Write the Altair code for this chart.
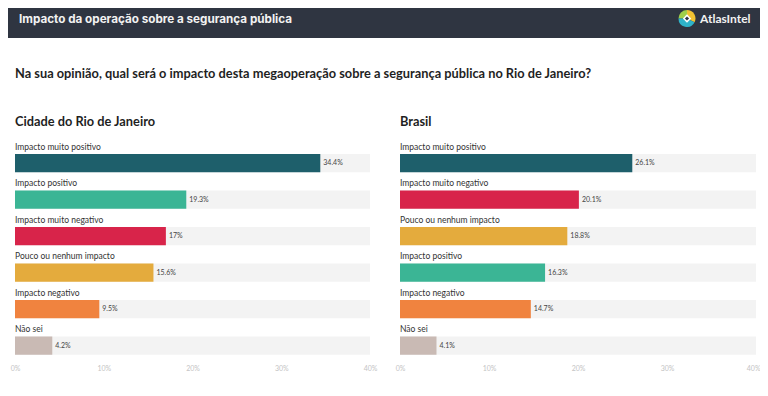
import altair as alt
import pandas as pd

# ---------------- data ----------------
header_title = "Impacto da operação sobre a segurança pública"
brand_name = "AtlasIntel"
question = "Na sua opinião, qual será o impacto desta megaoperação sobre a segurança pública no Rio de Janeiro?"
panel_titles = ["Cidade do Rio de Janeiro", "Brasil"]

rio_categories = ["Impacto muito positivo", "Impacto positivo", "Impacto muito negativo",
                  "Pouco ou nenhum impacto", "Impacto negativo", "Não sei"]
rio_values = [34.4, 19.3, 17, 15.6, 9.5, 4.2]

br_categories = ["Impacto muito positivo", "Impacto muito negativo", "Pouco ou nenhum impacto",
                 "Impacto positivo", "Impacto negativo", "Não sei"]
br_values = [26.1, 20.1, 18.8, 16.3, 14.7, 4.1]

tick_values = [0, 10, 20, 30, 40]
axis_max = 40

category_order = ["Impacto muito positivo", "Impacto positivo", "Impacto muito negativo",
                  "Pouco ou nenhum impacto", "Impacto negativo", "Não sei"]
category_colors = ["#1e5f6b", "#3bb595", "#d8244a", "#e4ab3d", "#f0833f", "#c9bab4"]

logo_segments = ["verde", "amarelo", "azul"]
logo_shares = [1, 1.3, 1.7]
logo_colors = ["#9fcf4a", "#f1c232", "#2fb3c9"]

# ---------------- layout ----------------
W, H = 752, 376
HEADER_BG = "#2f3541"
Y_RANGE = [136.75, 355.75]


def one_row(**kw):
    return alt.Chart(pd.DataFrame({k: [v] for k, v in kw.items()}))


def panel(cats, vals, x0, x1, flush_last=False):
    df = pd.DataFrame({
        "category": cats,
        "value": vals,
        "rank": list(range(len(cats))),
        "full": [axis_max] * len(cats),
        "label": [f"{v:g}%" for v in vals],
    })
    xs = alt.Scale(domain=[0, axis_max], range=[x0, x1], nice=False, zero=True)
    ys = alt.Scale(domain=list(range(len(cats))), range=Y_RANGE,
                   paddingInner=0.5, paddingOuter=0.25)
    y = alt.Y("rank:O", scale=ys, axis=None)
    axis_kw = dict(values=tick_values, orient="bottom", offset=-21,
                   domain=False, ticks=False, grid=False,
                   labelFontSize=7, labelColor="#c4c4c4", labelFont="Lato",
                   labelExpr="datum.value + '%'", labelPadding=1, labelFlush=False)
    if flush_last:
        axis_kw["labelAlign"] = {"condition": {"test": f"datum.value == {axis_max}",
                                               "value": "right"}, "value": "center"}
        axis_kw["labelOffset"] = {"condition": {"test": f"datum.value == {axis_max}",
                                                "value": 4}, "value": 0}
    base = alt.Chart(df)
    bg = base.mark_bar(color="#f3f3f3").encode(
        x=alt.X("full:Q", scale=xs, title=None, axis=alt.Axis(**axis_kw)),
        y=y,
    )
    bars = base.mark_bar().encode(
        x=alt.X("value:Q", scale=xs),
        y=y,
        color=alt.Color("category:N", legend=None,
                        scale=alt.Scale(domain=category_order, range=category_colors)),
    )
    names = base.mark_text(align="left", baseline="middle", dy=-16.5, font="Lato",
                           fontSize=8.5, color="#333333").encode(
        x=alt.datum(0), y=y, text="category:N")
    values = base.mark_text(align="left", baseline="middle", dx=3, font="Lato",
                            fontSize=7, color="#444444").encode(
        x=alt.X("value:Q", scale=xs), y=y, text="label:N")
    return alt.layer(bg, bars, names, values)


header_rect = one_row(a=0).mark_rect(color=HEADER_BG).encode(
    x=alt.value(0), x2=alt.value(W), y=alt.value(0), y2=alt.value(30))
header_text = one_row(t=header_title).mark_text(
    align="left", baseline="middle", font="Inter", fontWeight="bold",
    fontSize=11.7, color="#f2f2f2").encode(x=alt.value(11), y=alt.value(10.5), text="t:N")

logo_df = pd.DataFrame({"seg": logo_segments, "share": logo_shares})
logo_ring = alt.Chart(logo_df).mark_arc(outerRadius=8.5, innerRadius=0).encode(
    theta=alt.Theta("share:Q", stack=True),
    color=alt.Color("seg:N", legend=None,
                    scale=alt.Scale(domain=logo_segments, range=logo_colors)),
    x=alt.value(679), y=alt.value(10.5))
logo_diamond = one_row(a=0).mark_point(shape="diamond", filled=True, color="#ffffff",
                                       size=70, opacity=1).encode(
    x=alt.value(679), y=alt.value(10.5))
logo_core = one_row(a=0).mark_point(shape="diamond", filled=True, color=HEADER_BG,
                                    size=18, opacity=1).encode(
    x=alt.value(679), y=alt.value(10.5))
brand_text = one_row(t=brand_name).mark_text(
    align="left", baseline="middle", font="Lato", fontWeight="bold",
    fontSize=12, color="#f2f2f2").encode(x=alt.value(692), y=alt.value(10.5), text="t:N")

question_text = one_row(t=question).mark_text(
    align="left", baseline="middle", font="Lato", fontWeight="bold",
    fontSize=12.8, color="#1f1f1f").encode(x=alt.value(7), y=alt.value(65.5), text="t:N")

title_left = one_row(t=panel_titles[0]).mark_text(
    align="left", baseline="middle", font="Lato", fontWeight="bold",
    fontSize=12.8, color="#1f1f1f").encode(x=alt.value(7), y=alt.value(113.5), text="t:N")
title_right = one_row(t=panel_titles[1]).mark_text(
    align="left", baseline="middle", font="Lato", fontWeight="bold",
    fontSize=12.8, color="#1f1f1f").encode(x=alt.value(392), y=alt.value(113.5), text="t:N")

left_panel = panel(rio_categories, rio_values, 7, 362)
right_panel = panel(br_categories, br_values, 392, 748, flush_last=True)

chart = alt.layer(
    header_rect, header_text, logo_ring, logo_diamond, logo_core, brand_text,
    question_text, title_left, title_right, left_panel, right_panel,
).resolve_scale(
    x="independent", color="independent", theta="independent"
).properties(
    width=W, height=H, padding=0, autosize=alt.AutoSizeParams(type="none"),
    background="#ffffff",
).configure_view(stroke=None)

chart.save("out.html", embed_options={"renderer": "svg", "actions": False})
